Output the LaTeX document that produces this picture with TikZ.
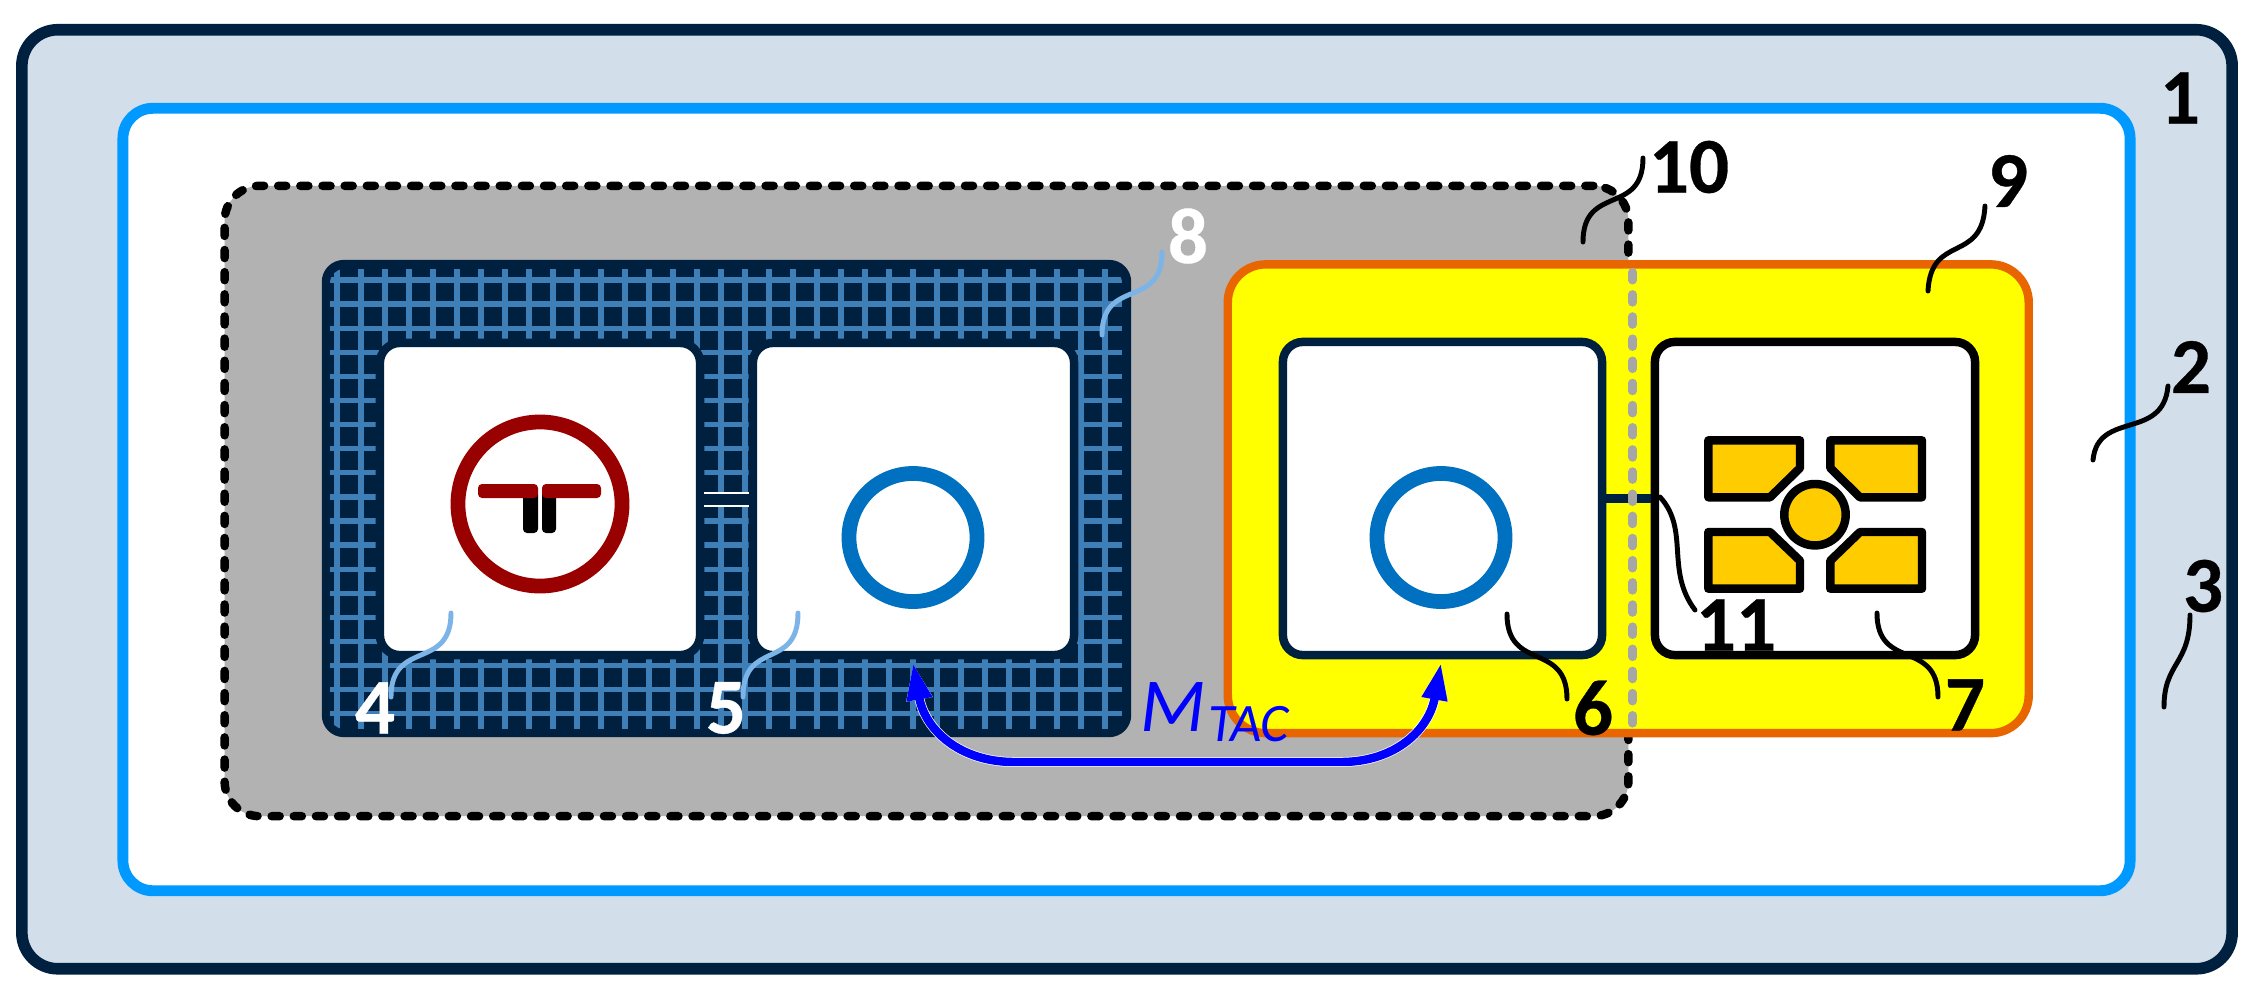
\documentclass[tikz,border=0pt]{standalone}
\usepackage{fontspec}
\setmainfont[BoldFeatures={FakeBold=0.4}]{Carlito}
\usetikzlibrary{arrows.meta}
\definecolor{navyline}{HTML}{002040}
\definecolor{paleblue}{HTML}{D2DFEB}
\definecolor{skyline}{HTML}{0099FF}
\definecolor{midgray}{HTML}{B2B2B2}
\definecolor{lightgray}{HTML}{A6A6A6}
\definecolor{gridblue}{HTML}{3F7FB7}
\definecolor{leadblue}{HTML}{7CB4E8}
\definecolor{orangeline}{HTML}{E86500}
\definecolor{darkred}{HTML}{990000}
\definecolor{ringblue}{HTML}{0070C0}
\definecolor{padgold}{HTML}{FFCC00}
\definecolor{zoneyellow}{HTML}{FFFF00}
\definecolor{linkblue}{HTML}{0000FF}
\tikzset{
    box/.style={draw,rectangle,inner sep=0pt},
    cellbox/.style={box,fill=white,line width=2.4pt,rounded corners=.2cm,minimum width=3.2cm,minimum height=3.13cm},
    ring/.style={draw=ringblue,circle,inner sep=0pt,line width=4.2pt,minimum size=1.28cm},
    pad/.style={draw=black,fill=padgold,line width=2.4pt,line join=round},
    num/.style={inner sep=0pt,font=\fontsize{22.5}{24}\selectfont\bfseries},
    leader/.style={line width=1.4pt,line cap=round},
    gridline/.style={gridblue,line width=1.5pt},
    stem/.style={rounded corners=.04cm},
    mutual/.style={{Triangle[length=10.5pt,width=6.8pt]}-{Triangle[length=10.5pt,width=6.8pt]}},
}
\begin{document}
\begin{tikzpicture}[x=0.01cm,y=-0.01cm]
    \useasboundingbox (0,0) rectangle (2259,996);

    % nested regions
    \node[box,draw=navyline,fill=paleblue,line width=3.3pt,rounded corners=.36cm,minimum width=22.09cm,minimum height=9.385cm] (device) at (1127,499.25) {};
    \node[box,draw=skyline,fill=white,line width=3.1pt,rounded corners=.3cm,minimum width=20.06cm,minimum height=7.82cm] (inner) at (1126.5,499.5) {};
    \node[box,draw=black,fill=midgray,line width=2.4pt,dash pattern=on 2.3pt off 4pt,line cap=round,rounded corners=.35cm,minimum width=14.03cm,minimum height=6.3cm] (zone) at (926.5,501) {};
    \node[box,draw=none,fill=navyline,rounded corners=.22cm,minimum width=8.09cm,minimum height=4.77cm] (mesh) at (726.5,498.5) {};

    % mesh of the left part
    \begin{scope}
        \clip[rounded corners=.14cm] (330,269) rectangle (1122,729);
        \foreach \k in {0,...,32}
            \draw[gridline] (337+24*\k,269) -- (337+24*\k,729);
        \foreach \k in {0,...,18}
            \draw[gridline] (330,280+24.1*\k) -- (1122,280+24.1*\k);
    \end{scope}
    \node[cellbox,draw=navyline,minimum width=3.2cm,minimum height=3.12cm] (cella) at (540,499) {};
    \node[cellbox,draw=navyline,minimum width=3.21cm,minimum height=3.12cm] (cellb) at (913.5,499) {};
    \fill[navyline] (704,493) rectangle (749,506);
    \draw[white,line width=.6pt] (704,493) -- (749,493);
    \draw[white,line width=.6pt] (704,506) -- (749,506);

    % first ring with its mark
    \node[draw=darkred,circle,inner sep=0pt,line width=4.2pt,minimum size=1.64cm] (ringa) at (540,504) {};
    \fill[black,stem] (523,490) rectangle (538,533);
    \fill[black,stem] (542,490) rectangle (556,533);
    \fill[darkred,stem] (478,484) rectangle (538,498);
    \fill[darkred,stem] (542,484) rectangle (601,498);
    \node[ring] (ringb) at (913,537.5) {};

    % right part
    \node[box,draw=orangeline,fill=zoneyellow,line width=2.4pt,rounded corners=.38cm,minimum width=8.005cm,minimum height=4.685cm] (chipzone) at (1628.25,498.75) {};
    \node[cellbox,draw=navyline,minimum width=3.19cm] (cellc) at (1442.5,498.5) {};
    \node[cellbox,draw=black] (celld) at (1815,498.5) {};
    \draw[navyline,line width=2.7pt] (cellc.east) -- (celld.west);
    \node[ring] (ringc) at (1441,537.5) {};
    \draw[lightgray,line width=2.4pt,dash pattern=on 2.3pt off 4pt,line cap=round] (zone.north east |- chipzone.north) ++(0,12) -- (zone.north east |- chipzone.south);

    % pads and central contact
    \draw[pad] (1708.3,440.3) -- (1800,440.3) -- (1800,468) -- (1770,497.3) -- (1708.3,497.3) -- cycle;
    \draw[pad] (1922,440.3) -- (1830.3,440.3) -- (1830.3,468) -- (1860,497.3) -- (1922,497.3) -- cycle;
    \draw[pad] (1708.3,588.7) -- (1800,588.7) -- (1800,560.7) -- (1770,532) -- (1708.3,532) -- cycle;
    \draw[pad] (1922,588.7) -- (1830.3,588.7) -- (1830.3,560.7) -- (1860,532) -- (1922,532) -- cycle;
    \node[circle,draw=black,fill=padgold,inner sep=0pt,line width=2.4pt,minimum size=.614cm] (contact) at (1815,514.7) {};

    % mutual link
    \coordinate (linka) at (913,663);
    \coordinate (linkb) at (1441,663);
    \coordinate (linkc) at (1014,762);
    \coordinate (linkd) at (1341,762);
    \draw[white,line width=2.8pt,mutual] (linka) .. controls (925,730) and (960,762) .. (linkc) -- (linkd) .. controls (1395,762) and (1429,730) .. (linkb);
    \draw[linkblue,line width=2.4pt,mutual] (linka) .. controls (925,730) and (960,762) .. (linkc) -- (linkd) .. controls (1395,762) and (1429,730) .. (linkb);
    \node[anchor=base west,inner sep=0pt,linkblue,font=\fontsize{21.7}{24}\selectfont\itshape] (mtac) at (1140,731) {M\kern.6pt\raisebox{-3.1pt}{\fontsize{15.4}{17}\selectfont TAC}};

    % reference numbers
    \node[num] (n1) at (2180,98) {1};
    \node[num] (n2) at (2191,367) {2};
    \node[num] (n3) at (2203,586) {3};
    \node[num,white] (n4) at (375,708) {4};
    \node[num,white] (n5) at (726,708) {5};
    \node[num] (n6) at (1593,708) {6};
    \node[num] (n7) at (1965,705) {7};
    \node[num,white] (n8) at (1188,236) {8};
    \node[num] (n9) at (2008,181) {9};
    \node[num] (n10) at (1689,167) {10};
    \node[num] (n11) at (1736,625) {11};

    % leaders
    \coordinate (l2a) at (2168,386);  \coordinate (l2b) at (2093,460);
    \coordinate (l3a) at (2190,615);  \coordinate (l3b) at (2164,707);
    \coordinate (l4a) at (451,613);   \coordinate (l4b) at (391,697);
    \coordinate (l5a) at (798,613);   \coordinate (l5b) at (743,697);
    \coordinate (l6a) at (1507,614);  \coordinate (l6b) at (1567,699);
    \coordinate (l7a) at (1877,613);  \coordinate (l7b) at (1938,697);
    \coordinate (l8a) at (1162,252);  \coordinate (l8b) at (1102,335);
    \coordinate (l9a) at (1985,206);  \coordinate (l9b) at (1928,291);
    \coordinate (l10a) at (1643,158); \coordinate (l10b) at (1583,242);
    \coordinate (l11a) at (1660,497); \coordinate (l11b) at (1695,610);
    \draw[leader] (l2a) .. controls +(-5,55) and +(5,-50) .. (l2b);
    \draw[leader] (l3a) .. controls +(0,50) and +(0,-45) .. (l3b);
    \draw[leader,leadblue] (l4a) .. controls +(0,58) and +(0,-58) .. (l4b);
    \draw[leader,leadblue] (l5a) .. controls +(0,58) and +(0,-58) .. (l5b);
    \draw[leader] (l6a) .. controls +(0,58) and +(0,-58) .. (l6b);
    \draw[leader] (l7a) .. controls +(0,58) and +(0,-58) .. (l7b);
    \draw[leader,leadblue] (l8a) .. controls +(0,58) and +(0,-58) .. (l8b);
    \draw[leader] (l9a) .. controls +(-3,58) and +(3,-58) .. (l9b);
    \draw[leader] (l10a) .. controls +(0,58) and +(0,-58) .. (l10b);
    \draw[leader] (l11a) .. controls +(30,33) and +(-30,-40) .. (l11b);
\end{tikzpicture}
\end{document}
